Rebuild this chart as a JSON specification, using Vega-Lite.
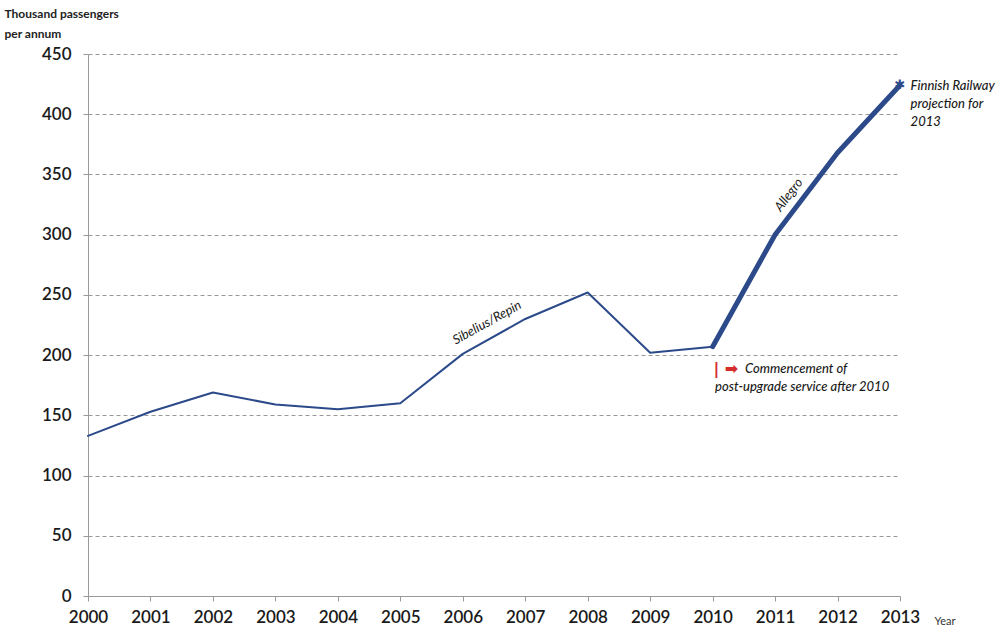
{
  "$schema": "https://vega.github.io/schema/vega-lite/v6.json",
  "autosize": {"type": "none"},
  "width": 812,
  "height": 542,
  "padding": {"left": 88, "top": 54, "right": 104, "bottom": 36},
  "background": "white",
  "config": {"view": {"stroke": null}, "font": "Lato"},
  "datasets": {
    "series": [
      {"year": 2000, "value": 133, "phase": "before"},
      {"year": 2001, "value": 153, "phase": "before"},
      {"year": 2002, "value": 169, "phase": "before"},
      {"year": 2003, "value": 159, "phase": "before"},
      {"year": 2004, "value": 155, "phase": "before"},
      {"year": 2005, "value": 160, "phase": "before"},
      {"year": 2006, "value": 201, "phase": "before"},
      {"year": 2007, "value": 230, "phase": "before"},
      {"year": 2008, "value": 252, "phase": "before"},
      {"year": 2009, "value": 202, "phase": "before"},
      {"year": 2010, "value": 207, "phase": "before"},
      {"year": 2010, "value": 207, "phase": "after"},
      {"year": 2011, "value": 300, "phase": "after"},
      {"year": 2012, "value": 368, "phase": "after"},
      {"year": 2013, "value": 424, "phase": "after"}
    ],
    "rotated": [
      {"x": 2006.42, "y": 224, "label": "Sibelius/Repin", "angle": -29},
      {"x": 2011.27, "y": 331, "label": "Allegro", "angle": -53}
    ],
    "notes": [
      {"x": 2013.17, "y": 423.5, "label": "Finnish Railway\nprojection for\n2013"},
      {"x": 2010.52, "y": 188.5, "label": "Commencement of"},
      {"x": 2010.04, "y": 173.5, "label": "post-upgrade service after 2010"}
    ],
    "red": [
      {"x": 2010.06, "y": 188.5, "label": "|"},
      {"x": 2010.3, "y": 188.5, "label": "➡"}
    ],
    "star": [
      {"year": 2013, "value": 424, "label": "✱"}
    ]
  },
  "layer": [
    {
      "data": {"name": "series"},
      "mark": {"type": "line", "color": "#2c4a8a", "strokeCap": "round", "strokeJoin": "round"},
      "encoding": {
        "x": {
          "field": "year", "type": "quantitative",
          "scale": {"domain": [2000, 2013], "nice": false, "zero": false},
          "axis": {
            "values": [2000, 2001, 2002, 2003, 2004, 2005, 2006, 2007, 2008, 2009, 2010, 2011, 2012, 2013],
            "format": "d", "grid": false,
            "domainColor": "#999999", "tickColor": "#999999", "tickSize": 5,
            "labelFont": "Lato", "labelFontSize": 17, "labelFontWeight": 600, "labelColor": "#1a1a1a",
            "labelPadding": 8, "labelFlush": false,
            "title": "Year", "titleFont": "Lato", "titleFontSize": 11, "titleFontWeight": "normal", "titleColor": "#333333",
            "titleAnchor": "start", "titleAlign": "left", "titleX": 846, "titleY": 28, "titleBaseline": "alphabetic"
          }
        },
        "y": {
          "field": "value", "type": "quantitative",
          "scale": {"domain": [0, 450], "nice": false},
          "axis": {
            "values": [0, 50, 100, 150, 200, 250, 300, 350, 400, 450],
            "grid": true, "gridColor": "#999999", "gridDash": [4, 3], "gridWidth": 1,
            "domainColor": "#999999", "tickColor": "#999999", "tickSize": 5,
            "labelFont": "Lato", "labelFontSize": 17, "labelFontWeight": 600, "labelColor": "#1a1a1a",
            "labelPadding": 12,
            "title": ["Thousand passengers", "per annum"], "titleFont": "Lato", "titleFontSize": 12, "titleFontWeight": "bold", "titleColor": "#222222",
            "titleAngle": 0, "titleAlign": "left", "titleAnchor": "start", "titleBaseline": "alphabetic",
            "titleX": -84, "titleY": -37, "titleLineHeight": 20
          }
        },
        "strokeWidth": {"field": "phase", "type": "nominal", "scale": {"domain": ["before", "after"], "range": [2, 5]}, "legend": null}
      }
    },
    {
      "data": {"name": "star"},
      "mark": {"type": "text", "color": "#2c4a8a", "fontSize": 13, "font": "DejaVu Sans", "baseline": "middle", "align": "center"},
      "encoding": {
        "x": {"field": "year", "type": "quantitative"},
        "y": {"field": "value", "type": "quantitative"},
        "text": {"field": "label"}
      }
    },
    {
      "data": {"name": "rotated"},
      "mark": {"type": "text", "font": "Lato", "fontStyle": "italic", "fontSize": 13, "color": "#1a1a1a", "align": "center", "baseline": "alphabetic"},
      "encoding": {
        "x": {"field": "x", "type": "quantitative"},
        "y": {"field": "y", "type": "quantitative"},
        "text": {"field": "label"},
        "angle": {"field": "angle", "type": "quantitative", "scale": null}
      }
    },
    {
      "data": {"name": "notes"},
      "mark": {"type": "text", "font": "Lato", "fontStyle": "italic", "fontSize": 13, "fontWeight": 500, "color": "#1a1a1a", "align": "left", "baseline": "middle", "lineBreak": "\n", "lineHeight": 18},
      "encoding": {
        "x": {"field": "x", "type": "quantitative"},
        "y": {"field": "y", "type": "quantitative"},
        "text": {"field": "label"}
      }
    },
    {
      "data": {"name": "red"},
      "mark": {"type": "text", "font": "DejaVu Sans", "fontSize": 16, "fontWeight": "bold", "color": "#d42b2b", "align": "center", "baseline": "middle"},
      "encoding": {
        "x": {"field": "x", "type": "quantitative"},
        "y": {"field": "y", "type": "quantitative"},
        "text": {"field": "label"}
      }
    }
  ]
}
